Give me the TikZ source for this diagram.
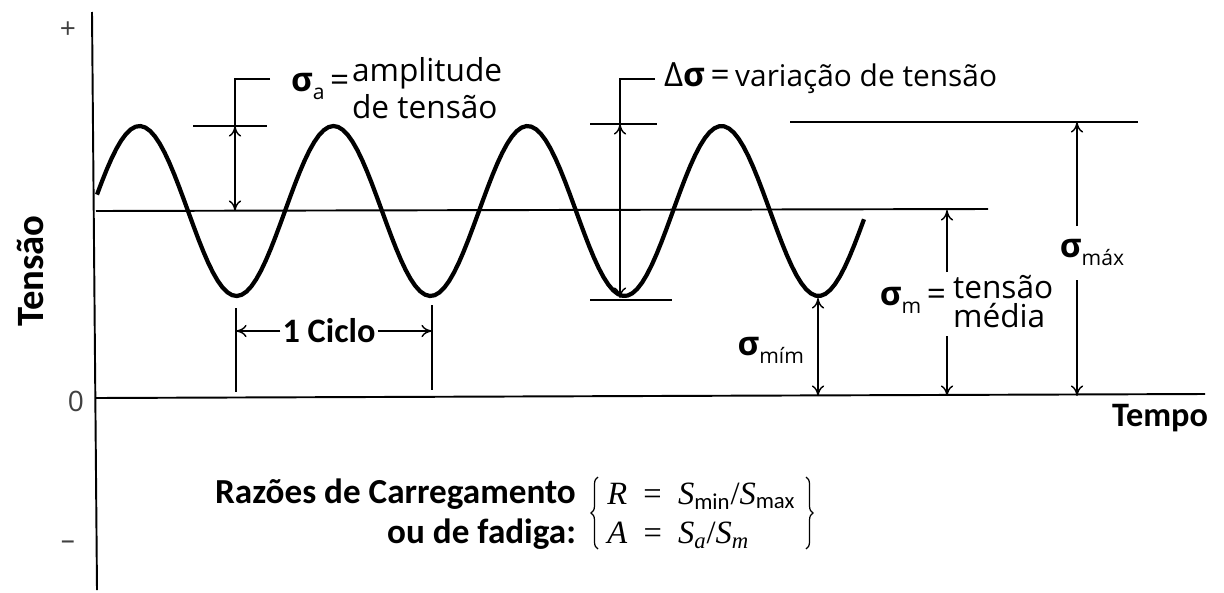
\documentclass[tikz,border=0pt]{standalone}
\usepackage{fontspec}
\setmainfont{Open Sans}
\newfontfamily\lblfont{Carlito}
\newfontfamily\tmsfont{Liberation Serif}
\usetikzlibrary{arrows.meta, positioning, decorations.pathreplacing}

\newcommand{\sgm}[1]{{\bfseries σ}\raisebox{-0.45ex}{\fontsize{12}{12}\selectfont #1}}

\begin{document}
\begin{tikzpicture}[
    x=0.02cm, y=-0.02cm,
    axis/.style  = {line width=1.1pt},
    wave/.style  = {line width=2.4pt, line join=round},
    guide/.style = {line width=0.8pt},
    dim/.style   = {guide, {To[length=6pt,width=7pt]}-{To[length=6pt,width=7pt]}},
    arr/.style   = {guide, -{To[length=6pt,width=7pt]}},
    brc/.style   = {line width=0.7pt, decorate, decoration={brace, amplitude=4pt}},
    lbl/.style   = {font=\lblfont\bfseries\fontsize{19.5}{22.7}\selectfont, inner sep=1pt},
    note/.style  = {font=\fontsize{18}{21}\selectfont, inner sep=1pt, align=left},
    sig/.style   = {font=\fontsize{19}{20}\selectfont, inner sep=1pt},
    tick/.style  = {font=\fontsize{16}{18}\selectfont, text=black!75}
]

\useasboundingbox (0,0) rectangle (1224,592);

%% Axes
\coordinate (ytop) at (92,12);
\coordinate (ybot) at (97,590);
\coordinate (o)    at (96,398);
\coordinate (xend) at (1205,394);
\coordinate (m0)   at (96,211);
\coordinate (m1)   at (988,209);
\draw[axis] (ytop) -- (ybot);
\draw[axis] (o) -- (xend);
\draw[axis] (m0) -- (m1);

\node[tick] (plus)  at (68,30)  {+};
\node[tick] (zero)  at (76,401) {0};
\node[tick] (minus) at (68,545) {--};
\node[lbl, font=\lblfont\bfseries\fontsize{22}{24}\selectfont, rotate=90] (ylab) at (30,271) {Tensão};
\node[lbl] (xlab) at (1160,418) {Tempo};

%% Wave
\draw[wave] plot[domain=97:864, samples=160] (\x, {211-85*sin(1.85567*(\x-91))});

%% Amplitude
\coordinate (a-brk)  at (270,79);
\coordinate (a-top)  at (235,79);
\coordinate (a-pk)   at (235,126);
\coordinate (a-mean) at (235,211);
\coordinate (a-t1)   at (193,126);
\coordinate (a-t2)   at (267,126);
\draw[guide] (a-brk) -- (a-top) -- (a-pk);
\draw[guide] (a-t1) -- (a-t2);
\draw[dim] (a-pk) -- (a-mean);
\node[sig, anchor=west] (sa) at (289,86) {\sgm{a}\,=};
\node[note, anchor=west] (sa-txt) at (350,88) {amplitude\\de tensão};

%% Range
\coordinate (d-brk) at (655,79);
\coordinate (d-top) at (620,79);
\coordinate (d-pk)  at (620,124);
\coordinate (d-tr)  at (620,298);
\coordinate (d-t1)  at (590,124);
\coordinate (d-t2)  at (657,124);
\coordinate (d-b1)  at (590,300);
\coordinate (d-b2)  at (672,300);
\draw[guide] (d-brk) -- (d-top) -- (d-pk);
\draw[guide] (d-t1) -- (d-t2);
\draw[guide] (d-b1) -- (d-b2);
\draw[dim] (d-pk) -- (d-tr);
\node[note, anchor=west] (ds) at (662,78) {\fontsize{19}{20}\selectfont Δ\textbf{σ}\,=\,\fontsize{17}{18}\selectfont variação de tensão};

%% Maximum
\coordinate (x-l)   at (790,122);
\coordinate (x-r)   at (1138,122);
\coordinate (x-top) at (1077,122);
\coordinate (x-bot) at (1077,396);
\draw[guide] (x-l) -- (x-r);
\node[sig] (smax) at (1092,252) {\sgm{máx}};
\draw[arr] (1077,226) -- (x-top);
\draw[arr] (1077,280) -- (x-bot);

%% Mean
\coordinate (m-top) at (947,210);
\coordinate (m-bot) at (947,396);
\node[sig, anchor=east] (sm) at (948,300) {\sgm{m}\,=};
\node[note, font=\fontsize{18}{16.5}\selectfont, anchor=west] (sm-txt) at (951,302) {tensão\\média};
\draw[arr] (947,272) -- (m-top);
\draw[arr] (947,336) -- (m-bot);

%% Minimum
\coordinate (n-top) at (818,298);
\coordinate (n-bot) at (818,396);
\draw[dim] (n-top) -- (n-bot);
\node[sig, anchor=east] (smin) at (806,350) {\sgm{mím}};

%% Cycle
\coordinate (c1-t) at (236,308);
\coordinate (c1-b) at (236,392);
\coordinate (c2-t) at (432,305);
\coordinate (c2-b) at (432,390);
\coordinate (c1)   at (236,331);
\coordinate (c2)   at (432,331);
\draw[guide] (c1-t) -- (c1-b);
\draw[guide] (c2-t) -- (c2-b);
\node[lbl] (cyc) at (329,331) {1 Ciclo};
\draw[arr] (cyc.west) -- (c1);
\draw[arr] (cyc.east) -- (c2);

%% Ratios
\node[lbl, font=\lblfont\bfseries\fontsize{20}{22.7}\selectfont, anchor=east, align=right] (ratio) at (578,514) {Razões de Carregamento\\ou de fadiga:};
\node[anchor=west, inner sep=0pt, font=\tmsfont\fontsize{18.5}{22.7}\selectfont] (frm) at (607,516) {%
    \begin{tabular}{@{}l@{}}
    \textit{R}\enskip=\enskip\textit{S}\textsubscript{\lblfont min}/\textit{S}\textsubscript{\lblfont max}\\
    \textit{A}\enskip=\enskip\textit{S}\textsubscript{\textit{a}}/\textit{S}\textsubscript{\textit{m}}
    \end{tabular}};
\coordinate (bl-b) at (598,549);
\coordinate (bl-t) at (598,477);
\coordinate (br-t) at (806,477);
\coordinate (br-b) at (806,549);
\draw[brc] (bl-b) -- (bl-t);
\draw[brc] (br-t) -- (br-b);

\end{tikzpicture}
\end{document}
